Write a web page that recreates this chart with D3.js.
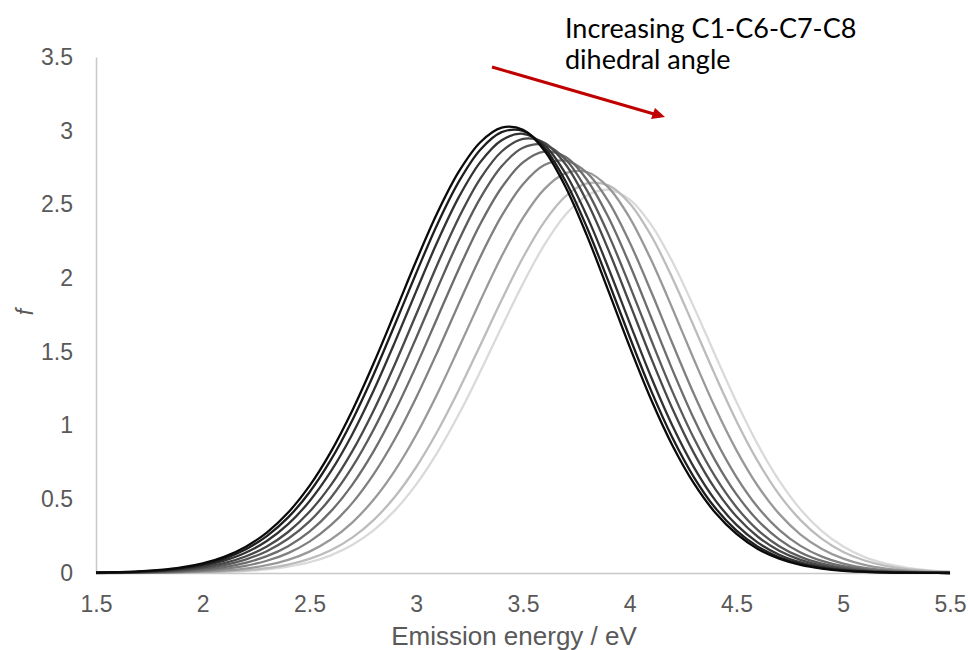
<!DOCTYPE html>
<html><head><meta charset="utf-8">
<script src="https://cdn.jsdelivr.net/npm/d3@7"></script>
<style>body{margin:0;background:#fff}svg{display:block}</style>
</head><body>
<svg id="chart" width="968" height="650"></svg>
<script>
// Emission energy grid (eV)
const energy = [1.5,1.6,1.7,1.8,1.9,2.0,2.1,2.2,2.3,2.4,2.5,2.6,2.7,2.8,2.9,3.0,3.1,3.2,3.3,3.4,3.5,3.6,3.7,3.8,3.9,4.0,4.1,4.2,4.3,4.4,4.5,4.6,4.7,4.8,4.9,5.0,5.1,5.2,5.3,5.4,5.5];

// Oscillator strength f, one series per dihedral angle (smallest -> largest)
const f1 = [0.003,0.006,0.011,0.021,0.038,0.066,0.109,0.177,0.274,0.410,0.591,0.822,1.101,1.421,1.767,2.118,2.447,2.724,2.922,3.021,3.006,2.866,2.617,2.287,1.914,1.534,1.177,0.865,0.609,0.410,0.265,0.163,0.097,0.055,0.030,0.015,0.008,0.004,0.002,0.001,0];
const f2 = [0.002,0.005,0.010,0.018,0.033,0.058,0.098,0.160,0.250,0.377,0.548,0.767,1.035,1.345,1.686,2.035,2.369,2.656,2.871,2.990,2.999,2.885,2.656,2.342,1.978,1.599,1.237,0.917,0.651,0.442,0.288,0.179,0.107,0.061,0.033,0.018,0.009,0.004,0.002,0.001,0];
const f3 = [0.002,0.004,0.008,0.015,0.028,0.049,0.084,0.137,0.217,0.331,0.487,0.689,0.940,1.236,1.566,1.912,2.250,2.551,2.787,2.936,2.979,2.903,2.708,2.419,2.069,1.695,1.329,0.998,0.718,0.494,0.326,0.206,0.124,0.072,0.040,0.021,0.011,0.005,0.002,0.001,0];
const f4 = [0.001,0.003,0.006,0.012,0.022,0.039,0.067,0.112,0.180,0.278,0.415,0.596,0.825,1.101,1.416,1.755,2.096,2.412,2.675,2.859,2.945,2.919,2.771,2.518,2.192,1.827,1.458,1.114,0.815,0.571,0.383,0.246,0.151,0.089,0.050,0.027,0.014,0.007,0.003,0.001,0.001];
const f5 = [0.001,0.002,0.005,0.009,0.017,0.031,0.054,0.091,0.148,0.232,0.350,0.511,0.718,0.972,1.269,1.596,1.934,2.259,2.543,2.759,2.884,2.904,2.805,2.594,2.297,1.948,1.582,1.230,0.915,0.653,0.446,0.291,0.182,0.109,0.063,0.034,0.018,0.009,0.004,0.002,0.001];
const f6 = [0.001,0.001,0.003,0.006,0.012,0.022,0.040,0.069,0.114,0.182,0.281,0.418,0.598,0.825,1.097,1.405,1.735,2.064,2.367,2.615,2.785,2.858,2.821,2.666,2.413,2.091,1.735,1.378,1.048,0.764,0.533,0.356,0.228,0.139,0.082,0.046,0.025,0.013,0.006,0.003,0.001];
const f7 = [0,0.001,0.002,0.004,0.008,0.015,0.028,0.049,0.083,0.135,0.213,0.324,0.474,0.669,0.909,1.191,1.503,1.829,2.144,2.422,2.637,2.767,2.797,2.714,2.521,2.242,1.909,1.557,1.216,0.909,0.651,0.446,0.293,0.184,0.111,0.064,0.035,0.019,0.009,0.005,0.002];
const f8 = [0,0.001,0.001,0.002,0.005,0.009,0.017,0.030,0.053,0.089,0.145,0.227,0.342,0.497,0.695,0.938,1.220,1.529,1.846,2.149,2.409,2.604,2.712,2.720,2.616,2.409,2.124,1.794,1.450,1.122,0.832,0.590,0.401,0.261,0.163,0.097,0.055,0.030,0.016,0.008,0.004];
const f9 = [0,0,0.001,0.001,0.003,0.005,0.010,0.018,0.033,0.057,0.096,0.154,0.240,0.359,0.517,0.719,0.963,1.243,1.545,1.852,2.140,2.382,2.556,2.642,2.629,2.507,2.289,2.000,1.674,1.342,1.030,0.757,0.532,0.359,0.231,0.143,0.085,0.048,0.026,0.014,0.007];
const f10 = [0,0,0,0.001,0.002,0.004,0.007,0.013,0.024,0.043,0.073,0.120,0.190,0.289,0.425,0.601,0.820,1.078,1.366,1.668,1.963,2.226,2.432,2.561,2.599,2.533,2.363,2.111,1.805,1.479,1.160,0.871,0.626,0.431,0.284,0.179,0.108,0.063,0.035,0.018,0.009];

const seriesValues = [f1,f2,f3,f4,f5,f6,f7,f8,f9,f10];
const seriesColors = ["#0a0a0a","#1e1e1e","#333333","#484848","#5a5a5a","#6c6c6c","#808080","#999999","#bcbcbc","#dadada"];

const xTicks = [1.5,2,2.5,3,3.5,4,4.5,5,5.5];
const yTicks = [0,0.5,1,1.5,2,2.5,3,3.5];
const xTitle = "Emission energy / eV";
const yTitle = "f";
const noteLines = ["Increasing C1-C6-C7-C8","dihedral angle"];

const svg = d3.select("#chart");
const x = d3.scaleLinear().domain([1.5,5.5]).range([96,950]);
const y = d3.scaleLinear().domain([0,3.5]).range([573,57]);

const tickFont = "'Liberation Sans', Arial, sans-serif";
const grey = "#595959";

// Y axis
const gy = svg.append("g").attr("transform","translate(96,0)")
  .call(d3.axisLeft(y).tickValues(yTicks).tickSize(0).tickSizeOuter(0).tickPadding(23)
    .tickFormat(d => String(d)));
gy.select(".domain").attr("stroke","#c8c8c8").attr("stroke-width",1.5);
gy.selectAll("text").attr("font-family",tickFont).attr("font-size",23).attr("fill",grey);

// X axis
const gx = svg.append("g").attr("transform","translate(0,573)")
  .call(d3.axisBottom(x).tickValues(xTicks).tickSize(0).tickSizeOuter(0).tickPadding(23)
    .tickFormat(d => String(d)));
gx.select(".domain").attr("stroke","#c8c8c8").attr("stroke-width",1.5);
gx.selectAll("text").attr("font-family",tickFont).attr("font-size",23).attr("fill",grey);

// Curves (lightest drawn first, darkest on top)
const line = d3.line().x((d,i)=>x(energy[i])).y(d=>y(d)).curve(d3.curveCatmullRom.alpha(0.5));
const order = d3.range(seriesValues.length).reverse();
svg.append("g").selectAll("path").data(order).join("path")
  .attr("d", k => line(seriesValues[k]))
  .attr("fill","none")
  .attr("stroke", k => seriesColors[k])
  .attr("stroke-width",2.3)
  .attr("stroke-linejoin","round");

// Axis titles
svg.append("text").attr("x",514).attr("y",645)
  .attr("text-anchor","middle").attr("font-family",tickFont).attr("font-size",26)
  .attr("fill",grey).text(xTitle);
svg.append("text").attr("transform","translate(33,312) rotate(-90)")
  .attr("text-anchor","middle").attr("font-family",tickFont).attr("font-size",23)
  .attr("font-style","italic").attr("fill",grey).text(yTitle);

// Annotation
const note = svg.append("text").attr("font-family","Lato, 'Open Sans', sans-serif")
  .attr("font-size",27).attr("fill","#000");
note.selectAll("tspan").data(noteLines).join("tspan")
  .attr("x",565).attr("y",(d,i)=>38+i*31).text(d=>d);

const arrowColor = "#c00000";
svg.append("line").attr("x1",492).attr("y1",67).attr("x2",654).attr("y2",114)
  .attr("stroke",arrowColor).attr("stroke-width",3);
svg.append("path").attr("d","M665,117 L651,119 L655,108 Z").attr("fill",arrowColor);
</script>
</body></html>
